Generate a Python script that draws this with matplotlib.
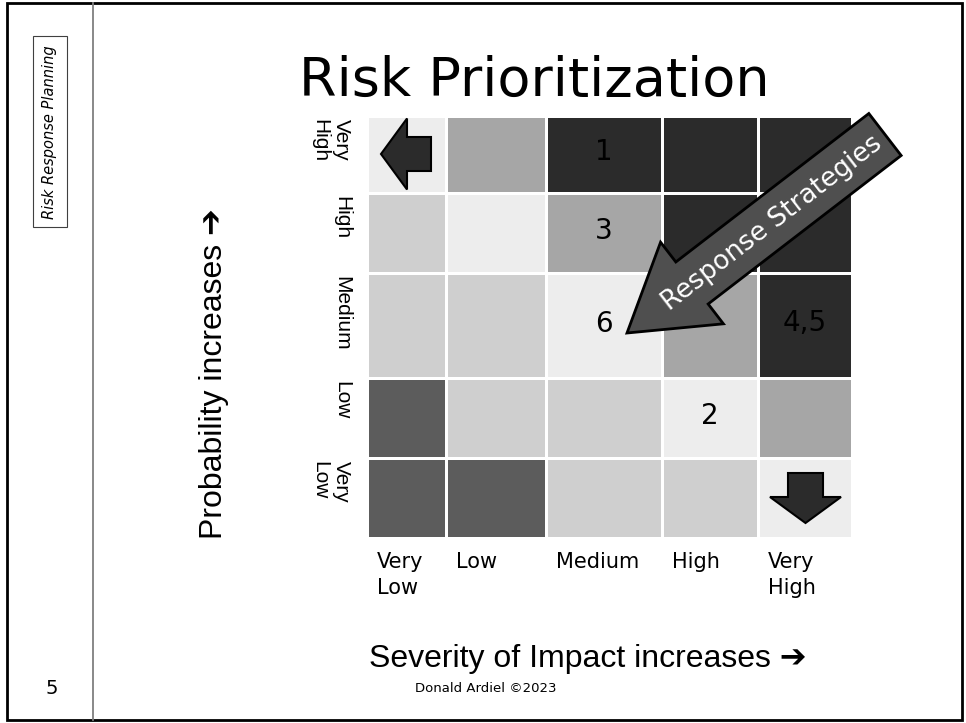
import matplotlib
matplotlib.use('Agg')
import matplotlib.pyplot as plt
from matplotlib.colors import ListedColormap
from matplotlib.patches import FancyArrow, Rectangle

# probability rows from top to bottom, impact columns left to right
probability_levels = ['Very\nHigh', 'High', 'Medium', 'Low', 'Very\nLow']
impact_levels = ['Very\nLow', 'Low', 'Medium', 'High', 'Very\nHigh']

# shade index for every cell (0 = lightest, 4 = darkest)
risk_grid = [[0, 2, 4, 4, 4],
             [1, 0, 2, 4, 4],
             [1, 1, 0, 2, 4],
             [3, 1, 1, 0, 2],
             [3, 3, 1, 1, 0]]

# numbered risks placed in the matrix
risk_ids = ['1', '3', '6', '4,5', '2']
risk_prob = ['Very\nHigh', 'High', 'Medium', 'Medium', 'Low']
risk_impact = ['Medium', 'Medium', 'Medium', 'Very\nHigh', 'High']

shades = ['#EDEDED', '#CFCFCF', '#A6A6A6', '#5C5C5C', '#2B2B2B']

# cell edges in pixels (the slide grid is not uniform)
col_edges = [367, 446, 546, 662, 758, 852]
row_edges = [116, 193, 273, 378, 458, 538]

W, H = 966, 723
fig = plt.figure(figsize=(W / 100, H / 100), dpi=100)
fig.patch.set_facecolor('white')
ax = fig.add_axes([0, 0, 1, 1])
ax.set_xlim(0, W)
ax.set_ylim(H, 0)
ax.axis('off')

arial = ['Liberation Sans', 'DejaVu Sans']
narrow = ['Liberation Sans Narrow', 'Liberation Sans', 'DejaVu Sans']

# slide frame and side bar
ax.add_patch(Rectangle((7, 3), 955, 717, fill=False, ec='black', lw=2.0))
ax.plot([93, 93], [3, 720], color='#7F7F7F', lw=1.3)
ax.add_patch(Rectangle((33, 36), 34, 191, fill=False, ec='#404040', lw=0.8))
ax.text(50, 132, 'Risk Response Planning', rotation=90, ha='center', va='center',
        fontsize=10.5, style='italic', family='DejaVu Sans')
ax.text(52, 688, '5', ha='center', va='center', fontsize=14)

ax.text(534, 81, 'Risk Prioritization', ha='center', va='center', fontsize=39)

# the matrix
cmap = ListedColormap(shades)
ax.pcolormesh(col_edges, row_edges, risk_grid, cmap=cmap, vmin=-0.5, vmax=4.5,
              edgecolors='white', linewidth=1.0)

for rid, p, s in zip(risk_ids, risk_prob, risk_impact):
    i = probability_levels.index(p)
    j = impact_levels.index(s)
    cx = (col_edges[j] + col_edges[j + 1]) / 2
    cy = (row_edges[i] + row_edges[i + 1]) / 2
    ax.text(cx, cy - 2, rid, ha='center', va='center', fontsize=20, color='black')

# axis labels
for i, lab in enumerate(probability_levels):
    ax.text(351, row_edges[i] + 3, lab, rotation=-90, ha='right', va='top',
            multialignment='left', fontsize=15, family=narrow, linespacing=1.15)
for j, lab in enumerate(impact_levels):
    ax.text(col_edges[j] + 10, 552, lab, ha='left', va='top', fontsize=15,
            linespacing=1.4)

ax.text(214, 374, 'Probability increases \u2794', rotation=90, ha='center', va='center',
        fontsize=23, family=arial)
ax.text(588, 659, 'Severity of Impact increases \u2794', ha='center', va='center',
        fontsize=23, family=arial)
ax.text(486, 689, 'Donald Ardiel \u00a92023', ha='center', va='center', fontsize=9.5)

# block arrows
ax.add_patch(FancyArrow(431, 154, -50, 0, width=34, head_width=71, head_length=26,
                        length_includes_head=True, fc='#2B2B2B', ec='black', lw=1.5))
ax.add_patch(FancyArrow(805.5, 473, 0, 50, width=35, head_width=71, head_length=26,
                        length_includes_head=True, fc='#2B2B2B', ec='black', lw=1.5))
ax.add_patch(FancyArrow(885, 134.5, -258, 198.5, width=53, head_width=103, head_length=82,
                        length_includes_head=True, fc='#4F4F4F', ec='black', lw=2.0))
ax.text(772, 223, 'Response Strategies', rotation=37.6, rotation_mode='anchor',
        ha='center', va='center', fontsize=19, color='white')

plt.savefig('out.png', dpi=100, facecolor='white')
